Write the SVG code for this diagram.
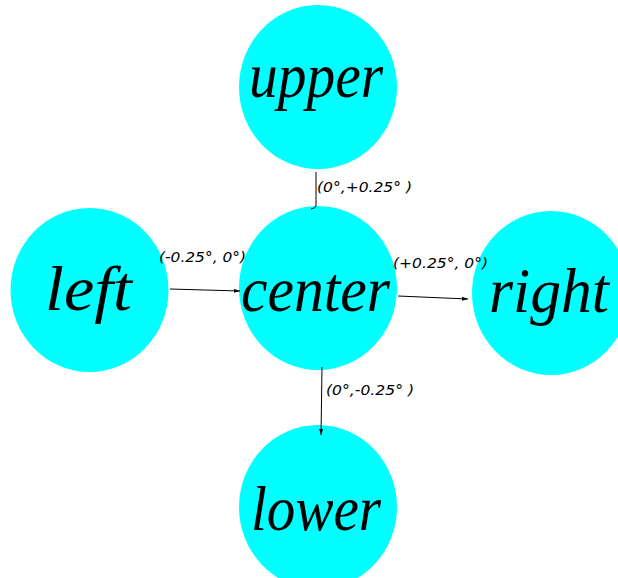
<svg xmlns="http://www.w3.org/2000/svg" width="618" height="578" viewBox="0 0 618 578">
<style>
.node{fill:#00ffff;stroke:none}
.lbl{font-family:"Liberation Serif",serif;font-style:italic;font-size:64px;fill:#000}
.el{font-family:"DejaVu Sans",sans-serif;font-style:italic;font-size:13.5px;fill:#000}
.edge{fill:none;stroke:#000;stroke-width:1}
</style>
<defs>
<marker id="ah" markerWidth="6" markerHeight="4" refX="6" refY="2" orient="auto" markerUnits="userSpaceOnUse">
<path d="M0,0 L6,2 L0,4 Z" fill="#000"/>
</marker>
</defs>
<rect width="618" height="578" fill="#fff"/>
<g id="upper"><ellipse class="node" cx="318" cy="87" rx="79" ry="82"/><text class="lbl" x="249" y="97" textLength="134" lengthAdjust="spacingAndGlyphs">upper</text></g>
<g id="left"><ellipse class="node" cx="89.5" cy="290" rx="79" ry="82"/><text class="lbl" x="45" y="310" textLength="87" lengthAdjust="spacingAndGlyphs">left</text></g>
<g id="center"><ellipse class="node" cx="318" cy="288" rx="79" ry="82"/><text class="lbl" x="241" y="311" textLength="149" lengthAdjust="spacingAndGlyphs">center</text></g>
<g id="right"><ellipse class="node" cx="551" cy="293" rx="79" ry="82"/><text class="lbl" x="489" y="312" textLength="120" lengthAdjust="spacingAndGlyphs">right</text></g>
<g id="lower"><ellipse class="node" cx="318" cy="507" rx="79" ry="82"/><text class="lbl" x="251" y="530" textLength="130" lengthAdjust="spacingAndGlyphs">lower</text></g>
<g id="edges">
<path class="edge" d="M316,172 L316,206 Q316,208 311,209"/>
<text class="el" x="317" y="192" textLength="95" lengthAdjust="spacingAndGlyphs">(0°,+0.25° )</text>
<path class="edge" d="M170,289 L240,291" marker-end="url(#ah)"/>
<text class="el" x="159" y="262" textLength="87" lengthAdjust="spacingAndGlyphs">(-0.25°, 0°)</text>
<path class="edge" d="M398,296 L468,299" marker-end="url(#ah)"/>
<text class="el" x="393" y="268" textLength="95" lengthAdjust="spacingAndGlyphs">(+0.25°, 0°)</text>
<path class="edge" d="M322,367 L321,435" marker-end="url(#ah)"/>
<text class="el" x="326" y="395" textLength="88" lengthAdjust="spacingAndGlyphs">(0°,-0.25° )</text>
</g>
</svg>
